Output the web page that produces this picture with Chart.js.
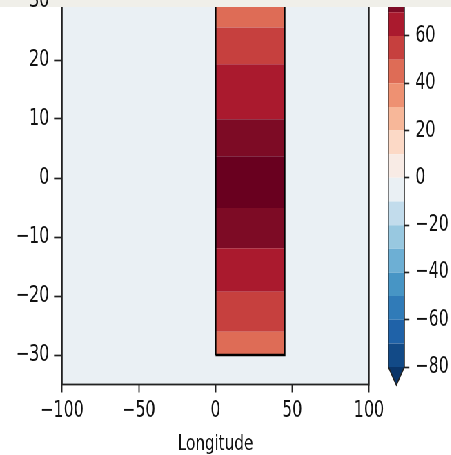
<!DOCTYPE html>
<html>
<head>
<meta charset="utf-8">
<script src="https://cdn.jsdelivr.net/npm/chart.js@4"></script>
<style>
  html, body { margin: 0; padding: 0; background: #fff; overflow: hidden; }
  body { width: 451px; height: 455px; position: relative; }
  #wrap { position: absolute; left: 0; top: 0; width: 654px; height: 455px; transform: scaleX(0.69); transform-origin: 0 0; }
  #mainChart { position: absolute; left: 0; top: -60px; }
  #barChart { position: absolute; left: 556.5px; top: -60px; }
</style>
</head>
<body>
<div id="wrap">
  <canvas id="mainChart" width="590" height="515"></canvas>
  <canvas id="barChart" width="98" height="515"></canvas>
</div>
<script>
// ---- data ----
const lonTicks = [-100, -50, 0, 50, 100];
const latTicks = [-30, -20, -10, 0, 10, 20, 30];
const boxLon = [0, 45];
const latEdges = [-30, -26.05, -19.3, -11.9, -5.1, 3.7, 9.95, 19.3, 25.5, 30];
const bandValues = [45, 55, 65, 75, 85, 75, 65, 55, 45];
const fieldValue = -5;

const levels = [-80, -70, -60, -50, -40, -30, -20, -10, 0, 10, 20, 30, 40, 50, 60, 70, 80];
const levelColors = [
    '#124a87', '#1f62a8', '#307bb8', '#4795c5', '#6dafd4', '#98c8e0', '#c2dcec', '#eaf0f4',
    '#f8ebe5', '#fcd9c6', '#f7b799', '#ee9172', '#de6c56', '#c6403e', '#aa1a2e', '#7d0b25'
];
const underColor = '#0a3569';
const overColor = '#69001f';
const cbarTicks = [-80, -60, -40, -20, 0, 20, 40, 60];
const extendLen = 7.6;

const ink = '#111';
const tickFont = { family: 'DejaVu Sans', size: 23 };
const fmt = v => (v < 0 ? '\u2212' + Math.abs(v) : String(v));

const colorFor = v => {
    if (v < levels[0]) return underColor;
    if (v >= levels[levels.length - 1]) return overColor;
    for (let i = 0; i < levels.length - 1; i++) {
        if (v < levels[i + 1]) return levelColors[i];
    }
    return overColor;
};

// light band across the top of the page (drawn under the tick labels)
const topStrip = {
    id: 'topStrip',
    afterDatasetsDraw(chart) {
        const ctx = chart.ctx;
        ctx.save();
        ctx.fillStyle = '#f0efe9';
        ctx.fillRect(0, 60, chart.width, 7);
        ctx.restore();
    }
};

// ---- main contour panel ----
const mainSets = [];
mainSets.push({
    data: [{ x: -100, y: 35 }, { x: 100, y: 35 }],
    fill: 'start',
    backgroundColor: colorFor(fieldValue),
    borderColor: 'rgba(0,0,0,0)',
    pointRadius: 0,
    order: 3
});
latEdges.forEach((lat, k) => {
    mainSets.push({
        data: boxLon.map(x => ({ x, y: lat })),
        fill: k === 0 ? false : '-1',
        backgroundColor: k === 0 ? 'transparent' : colorFor(bandValues[k - 1]),
        borderColor: 'rgba(0,0,0,0)',
        pointRadius: 0,
        order: 2
    });
});
const lat0 = latEdges[0], lat1 = latEdges[latEdges.length - 1];
mainSets.push({
    data: [
        { x: boxLon[0], y: lat0 }, { x: boxLon[1], y: lat0 },
        { x: boxLon[1], y: lat1 }, { x: boxLon[0], y: lat1 }, { x: boxLon[0], y: lat0 }
    ],
    fill: false,
    borderColor: '#000',
    borderWidth: 2.5,
    pointRadius: 0,
    order: 1
});

const frame = {
    id: 'frame',
    afterDatasetsDraw(chart) {
        const { ctx, chartArea: a } = chart;
        ctx.save();
        ctx.strokeStyle = '#222';
        ctx.lineWidth = 1.8;
        ctx.strokeRect(a.left, a.top, a.right - a.left, a.bottom - a.top);
        ctx.restore();
    }
};

new Chart(document.getElementById('mainChart'), {
    type: 'line',
    data: { datasets: mainSets },
    options: {
        responsive: false,
        animation: false,
        layout: { padding: { left: 0, top: 31.5, right: 55.2, bottom: 0 } },
        plugins: { legend: { display: false }, tooltip: { enabled: false } },
        scales: {
            x: {
                type: 'linear', min: -100, max: 100,
                afterBuildTicks: s => { s.ticks = lonTicks.map(v => ({ value: v })); },
                afterFit: s => { s.height = 70.5; },
                ticks: { font: tickFont, color: ink, padding: 5, maxRotation: 0, autoSkip: false, callback: fmt, z: 1 },
                grid: { drawOnChartArea: false, drawTicks: true, tickLength: 8, tickWidth: 1.9, tickColor: '#222' },
                border: { display: false },
                title: { display: true, text: 'Longitude', color: ink, font: { family: 'DejaVu Sans', size: 22 }, padding: { top: 0, bottom: -2 } }
            },
            y: {
                type: 'linear', min: -35, max: 35,
                afterBuildTicks: s => { s.ticks = latTicks.map(v => ({ value: v })); },
                afterFit: s => { s.width = 89.9; },
                ticks: { font: tickFont, color: ink, padding: 6.8, autoSkip: false, callback: fmt, z: 1 },
                grid: { drawOnChartArea: false, drawTicks: true, tickLength: 11.6, tickWidth: 1.7, tickColor: '#222' },
                border: { display: false }
            }
        }
    },
    plugins: [frame, topStrip]
});

// ---- colorbar ----
const barSets = [];
levels.forEach((lv, i) => {
    barSets.push({
        data: [{ x: 0, y: lv }, { x: 1, y: lv }],
        fill: i === 0 ? false : '-1',
        backgroundColor: i === 0 ? 'transparent' : levelColors[i - 1],
        borderColor: 'rgba(0,0,0,0)',
        pointRadius: 0,
        order: 2
    });
});
const lowTip = levels[0] - extendLen;
barSets.push({
    data: [{ x: 0, y: levels[0] }, { x: 0.5, y: lowTip }, { x: 1, y: levels[0] }],
    fill: { value: levels[0] },
    backgroundColor: underColor,
    borderColor: 'rgba(0,0,0,0)',
    pointRadius: 0,
    order: 2
});
const topLv = levels[levels.length - 1];
barSets.push({
    data: [
        { x: 0, y: topLv }, { x: 0, y: levels[0] }, { x: 0.5, y: lowTip },
        { x: 1, y: levels[0] }, { x: 1, y: topLv }
    ],
    fill: false,
    borderColor: '#222',
    borderWidth: 1.5,
    pointRadius: 0,
    clip: false,
    order: 1
});

new Chart(document.getElementById('barChart'), {
    type: 'line',
    data: { datasets: barSets },
    options: {
        responsive: false,
        animation: false,
        layout: { padding: { left: 5.8, top: 48.7, right: 0, bottom: 70 } },
        plugins: { legend: { display: false }, tooltip: { enabled: false } },
        scales: {
            x: { type: 'linear', min: 0, max: 1, display: false },
            y: {
                type: 'linear', position: 'right', min: lowTip, max: topLv,
                afterBuildTicks: s => { s.ticks = cbarTicks.map(v => ({ value: v })); },
                afterFit: s => { s.width = 69; },
                ticks: { font: tickFont, color: ink, padding: 8.7, autoSkip: false, callback: fmt, z: 1 },
                grid: { drawOnChartArea: false, drawTicks: true, tickLength: 7.2, tickWidth: 1.7, tickColor: '#222' },
                border: { display: false }
            }
        }
    },
    plugins: [topStrip]
});
</script>
</body>
</html>
